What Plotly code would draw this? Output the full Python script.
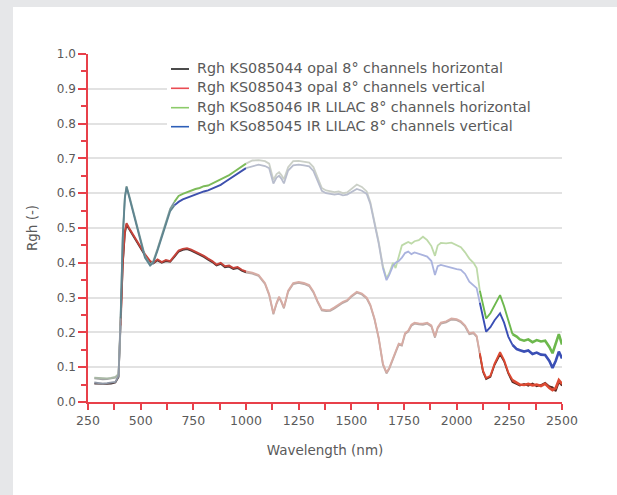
import plotly.graph_objects as go

wavelength = [280, 300, 320, 340, 360, 380, 395, 405, 415, 425, 433, 445, 460, 480, 500, 520, 545, 560, 580, 600,
              620, 640, 660, 680, 700, 720, 740, 760, 780, 800, 820, 840, 860, 880, 900, 920, 940, 960, 980, 1000,
              1030, 1060, 1090, 1110, 1130, 1145, 1157, 1168, 1180, 1200, 1224, 1250, 1275, 1300, 1320, 1340, 1360, 1380, 1400, 1420,
              1440, 1460, 1480, 1500, 1526, 1550, 1573, 1590, 1610, 1630, 1650, 1667, 1680, 1698, 1710, 1725, 1740, 1755, 1770, 1785,
              1800, 1820, 1840, 1860, 1880, 1897, 1910, 1925, 1950, 1975, 2000, 2020, 2040, 2060, 2080, 2095, 2110, 2125, 2140, 2160,
              2180, 2206, 2225, 2245, 2265, 2285, 2300, 2320, 2340, 2360, 2380, 2400, 2420, 2440, 2455, 2470, 2485, 2500]

opal_horizontal = [0.053, 0.052, 0.051, 0.052, 0.053, 0.056, 0.072, 0.215, 0.395, 0.485, 0.510, 0.497, 0.482, 0.462, 0.442, 0.422, 0.403, 0.398, 0.407, 0.400,
                   0.405, 0.403, 0.417, 0.432, 0.437, 0.439, 0.435, 0.429, 0.425, 0.417, 0.409, 0.402, 0.392, 0.397, 0.387, 0.389, 0.382, 0.385, 0.377, 0.372,
                   0.369, 0.362, 0.339, 0.307, 0.252, 0.282, 0.300, 0.287, 0.269, 0.317, 0.339, 0.342, 0.339, 0.333, 0.315, 0.287, 0.263, 0.261, 0.262, 0.269,
                   0.277, 0.285, 0.290, 0.302, 0.314, 0.309, 0.297, 0.277, 0.237, 0.182, 0.107, 0.082, 0.095, 0.127, 0.142, 0.165, 0.162, 0.195, 0.202, 0.219,
                   0.225, 0.223, 0.222, 0.225, 0.217, 0.185, 0.212, 0.225, 0.229, 0.237, 0.235, 0.229, 0.217, 0.195, 0.197, 0.187, 0.137, 0.087, 0.066, 0.072,
                   0.107, 0.137, 0.117, 0.082, 0.057, 0.052, 0.047, 0.052, 0.047, 0.053, 0.045, 0.049, 0.055, 0.045, 0.042, 0.031, 0.057, 0.047]

opal_vertical = [0.068, 0.066, 0.065, 0.066, 0.067, 0.070, 0.080, 0.220, 0.400, 0.490, 0.514, 0.500, 0.485, 0.465, 0.445, 0.425, 0.405, 0.400, 0.410, 0.402,
                 0.408, 0.405, 0.420, 0.435, 0.440, 0.442, 0.438, 0.432, 0.428, 0.420, 0.412, 0.405, 0.395, 0.400, 0.390, 0.392, 0.385, 0.388, 0.380, 0.375,
                 0.372, 0.365, 0.342, 0.310, 0.255, 0.285, 0.303, 0.290, 0.272, 0.320, 0.342, 0.345, 0.342, 0.336, 0.318, 0.290, 0.266, 0.264, 0.265, 0.272,
                 0.280, 0.288, 0.293, 0.305, 0.317, 0.312, 0.300, 0.280, 0.240, 0.185, 0.110, 0.085, 0.098, 0.130, 0.145, 0.168, 0.165, 0.198, 0.205, 0.222,
                 0.228, 0.226, 0.225, 0.228, 0.220, 0.188, 0.215, 0.228, 0.232, 0.240, 0.238, 0.232, 0.220, 0.198, 0.200, 0.190, 0.140, 0.090, 0.069, 0.075,
                 0.110, 0.143, 0.120, 0.085, 0.063, 0.055, 0.050, 0.049, 0.052, 0.048, 0.050, 0.046, 0.052, 0.040, 0.034, 0.040, 0.063, 0.052]

lilac_horizontal = [0.070, 0.069, 0.068, 0.068, 0.069, 0.072, 0.080, 0.250, 0.480, 0.590, 0.620, 0.595, 0.560, 0.510, 0.460, 0.420, 0.395, 0.405, 0.440, 0.480,
                    0.520, 0.555, 0.575, 0.592, 0.598, 0.603, 0.607, 0.612, 0.615, 0.620, 0.622, 0.628, 0.633, 0.638, 0.645, 0.652, 0.660, 0.668, 0.676, 0.685,
                    0.694, 0.695, 0.692, 0.685, 0.638, 0.655, 0.660, 0.652, 0.640, 0.675, 0.692, 0.693, 0.690, 0.688, 0.675, 0.645, 0.615, 0.608, 0.605, 0.603,
                    0.605, 0.600, 0.602, 0.612, 0.625, 0.618, 0.605, 0.575, 0.520, 0.460, 0.390, 0.355, 0.370, 0.400, 0.385, 0.420, 0.450, 0.455, 0.460, 0.455,
                    0.462, 0.465, 0.475, 0.465, 0.448, 0.420, 0.450, 0.457, 0.456, 0.458, 0.452, 0.445, 0.430, 0.412, 0.400, 0.385, 0.320, 0.275, 0.240, 0.255,
                    0.278, 0.307, 0.275, 0.232, 0.195, 0.188, 0.180, 0.176, 0.180, 0.172, 0.178, 0.174, 0.176, 0.158, 0.140, 0.165, 0.195, 0.165]

lilac_vertical = [0.056, 0.054, 0.053, 0.054, 0.055, 0.058, 0.075, 0.240, 0.470, 0.585, 0.617, 0.590, 0.555, 0.505, 0.455, 0.415, 0.392, 0.400, 0.435, 0.475,
                  0.515, 0.548, 0.565, 0.575, 0.582, 0.587, 0.592, 0.597, 0.600, 0.605, 0.608, 0.613, 0.619, 0.624, 0.632, 0.640, 0.648, 0.656, 0.664, 0.672,
                  0.678, 0.682, 0.678, 0.672, 0.628, 0.645, 0.650, 0.642, 0.628, 0.665, 0.680, 0.682, 0.680, 0.677, 0.664, 0.635, 0.607, 0.600, 0.598, 0.596,
                  0.598, 0.594, 0.596, 0.603, 0.612, 0.607, 0.598, 0.570, 0.515, 0.455, 0.385, 0.350, 0.365, 0.392, 0.400, 0.405, 0.415, 0.428, 0.432, 0.425,
                  0.430, 0.425, 0.422, 0.418, 0.405, 0.365, 0.390, 0.394, 0.390, 0.384, 0.382, 0.380, 0.368, 0.346, 0.335, 0.327, 0.285, 0.240, 0.202, 0.215,
                  0.235, 0.255, 0.228, 0.188, 0.164, 0.152, 0.149, 0.145, 0.148, 0.138, 0.142, 0.136, 0.135, 0.118, 0.098, 0.118, 0.145, 0.125]

series_names = ["Rgh KS085044 opal 8° channels horizontal",
                "Rgh KS085043 opal 8° channels vertical",
                "Rgh KSo85046 IR LILAC 8° channels horizontal",
                "Rgh KSo85045 IR LILAC 8° channels vertical"]
series_values = [opal_horizontal, opal_vertical, lilac_horizontal, lilac_vertical]
legend_colors = ["#1e1e1e", "#ea4b52", "#8ccb6a", "#2d5fb8"]

y_ticks = [0.0, 0.1, 0.2, 0.3, 0.4, 0.5, 0.6, 0.7, 0.8, 0.9, 1.0]
x_ticks = [250, 500, 750, 1000, 1250, 1500, 1750, 2000, 2250, 2500]

# styling: the printed figure shows each curve with washed-out colours in some wavelength bands
# (start nm, end nm, colour, line width)
segment_styles = [
    [(280, 1000, "#4a3434", 1.8), (1000, 2110, "#b9a9a6", 1.8), (2110, 2500, "#5a2a22", 1.8)],
    [(280, 405, "#a2a4a4", 1.8), (405, 1000, "#c6433a", 1.9), (1000, 2110, "#d8aca4", 1.8),
     (2110, 2265, "#dc4a33", 1.9), (2265, 2500, "#dc4a33", 2.6)],
    [(280, 405, "#a9b8a5", 1.8), (405, 660, "#7f9c9a", 1.8), (660, 1000, "#7dbb5a", 1.9), (1000, 1650, "#cbd0c7", 1.8),
     (1650, 2110, "#bedaa9", 1.8), (2110, 2265, "#6db84d", 1.9), (2265, 2500, "#6db84d", 2.6)],
    [(280, 405, "#8f98a6", 1.8), (405, 660, "#5f8590", 1.8), (660, 1000, "#3d50ad", 1.9), (1000, 1650, "#b8bdcd", 1.8),
     (1650, 2110, "#aab3de", 1.8), (2110, 2265, "#3a4fb5", 1.9), (2265, 2500, "#3a4fb5", 2.6)],
]

AXIS_RED = "#e8404a"
TEXT = "#5a5a5a"
FONT = "DejaVu Sans"
FRAME = "#e6e7e9"

# pixel geometry of the plot area
L, R, T, B = 88, 562, 54, 402
W, H = 617, 495


def px_x(p):
    return (p - L) / (R - L)


def px_y(p):
    return (B - p) / (B - T)


fig = go.Figure()
for name, vals, segs in zip(series_names, series_values, segment_styles):
    for (a, b, col, lw) in segs:
        xs = [w for w in wavelength if a <= w <= b]
        ys = [v for w, v in zip(wavelength, vals) if a <= w <= b]
        fig.add_trace(go.Scatter(x=xs, y=ys, mode="lines", name=name, showlegend=False,
                                 line=dict(color=col, width=lw), hoverinfo="skip"))

shapes = [
    # white card on grey page
    dict(type="rect", xref="paper", yref="paper", x0=px_x(13), x1=px_x(W + 20), y0=px_y(H + 20), y1=px_y(7),
         fillcolor="white", line=dict(width=0), layer="below"),
    # legend background
    dict(type="rect", xref="paper", yref="paper", x0=px_x(167), x1=px_x(566), y0=px_y(146), y1=px_y(50),
         fillcolor="white", line=dict(width=0), layer="above"),
    dict(type="rect", xref="paper", yref="paper", x0=px_x(90), x1=px_x(167), y0=px_y(57), y1=px_y(50),
         fillcolor="white", line=dict(width=0), layer="above"),
]
annotations = []
legend_rows = [69, 88.3, 107.7, 126.7]
for name, col, row in zip(series_names, legend_colors, legend_rows):
    shapes.append(dict(type="line", xref="paper", yref="paper", x0=px_x(171), x1=px_x(189),
                       y0=px_y(row), y1=px_y(row), line=dict(color=col, width=1.6), layer="above"))
    annotations.append(dict(xref="paper", yref="paper", x=px_x(195), y=px_y(row), xanchor="left",
                            yanchor="middle", text=name, showarrow=False, yshift=1,
                            font=dict(family=FONT, size=14.3, color=TEXT)))

fig.update_layout(
    width=W, height=H,
    margin=dict(l=L, r=W - R, t=T, b=H - B),
    paper_bgcolor=FRAME, plot_bgcolor="white",
    font=dict(family=FONT, color=TEXT, size=12),
    showlegend=False,
    shapes=shapes, annotations=annotations,
)

fig.update_xaxes(range=[250, 2500], tickvals=x_ticks, ticktext=[str(v) for v in x_ticks],
                 showgrid=False, zeroline=False, showline=True, linecolor=AXIS_RED, linewidth=1.5,
                 ticks="outside", ticklen=6, tickcolor=AXIS_RED, tickwidth=1.5,
                 minor=dict(dtick=125, ticks="outside", ticklen=6, tickcolor=AXIS_RED, tickwidth=1.5, showgrid=False),
                 tickfont=dict(size=12.5, color=TEXT),
                 title=dict(text="Wavelength (nm)", font=dict(size=13.5, color=TEXT), standoff=19))
fig.update_yaxes(range=[0, 1.0], tickvals=y_ticks, ticktext=[f"{v:.1f}" for v in y_ticks],
                 showgrid=True, gridcolor="#e2e2e2", gridwidth=2, zeroline=False,
                 showline=True, linecolor=AXIS_RED, linewidth=1.5,
                 ticks="outside", ticklen=8, tickcolor=AXIS_RED, tickwidth=1.5,
                 minor=dict(dtick=0.05, ticks="outside", ticklen=5, tickcolor=AXIS_RED, tickwidth=1.5, showgrid=False),
                 tickfont=dict(size=12, color=TEXT),
                 title=dict(text="Rgh (-)", font=dict(size=13.5, color=TEXT), standoff=16))

fig.write_html("out.html", config={"displayModeBar": False},
               post_script="document.body.style.margin='0px';document.body.style.overflow='hidden';")
